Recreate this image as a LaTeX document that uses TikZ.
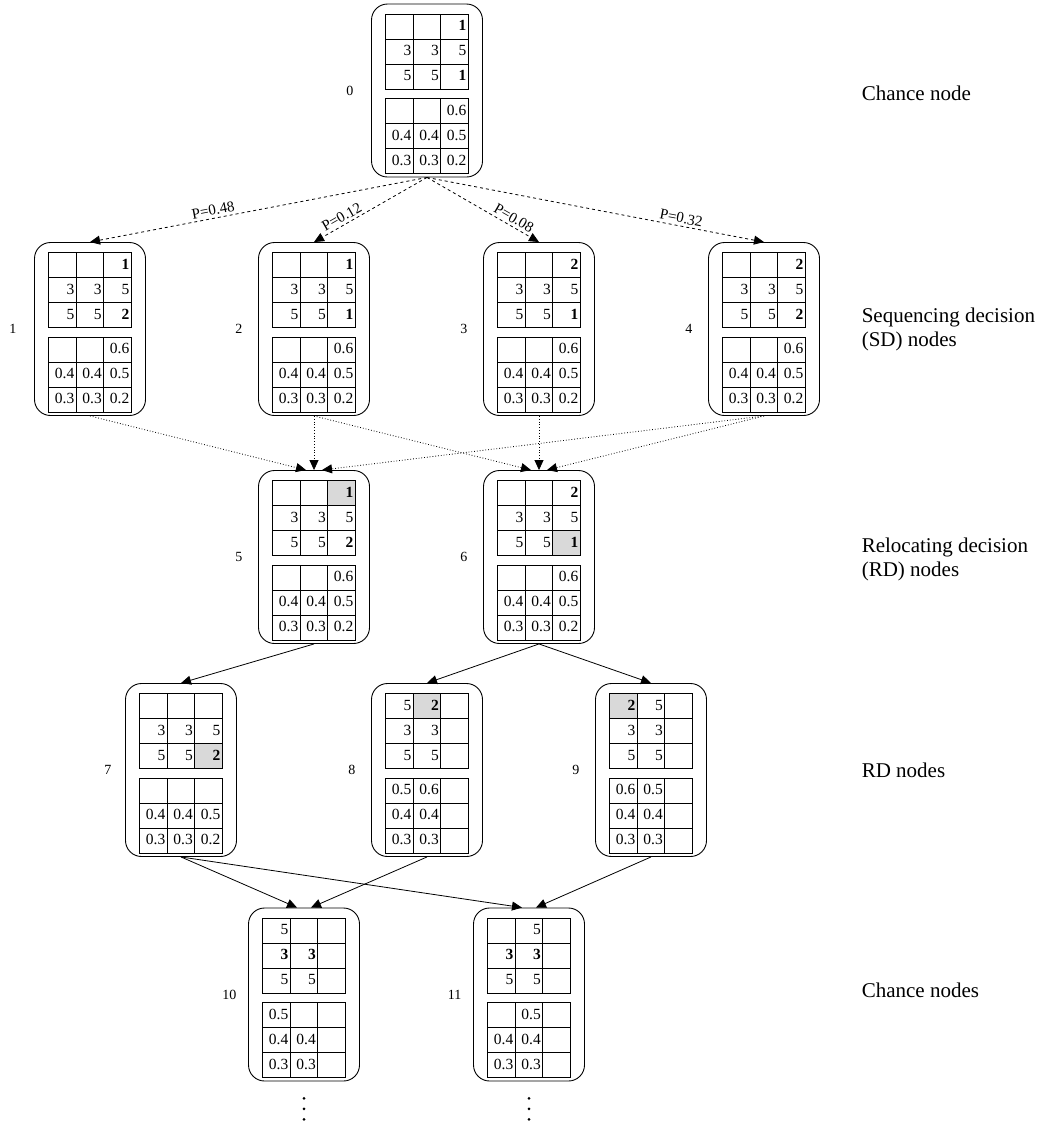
\documentclass[tikz,border=0pt]{standalone}
\usepackage{fontspec}
\setmainfont{Liberation Serif}
\usepackage{tikz}
\usetikzlibrary{arrows.meta, positioning, matrix}
\definecolor{cellgray}{HTML}{D9D9D9}

\begin{document}
\begin{tikzpicture}[x=1pt, y=1pt, line width=0.9pt,
    statebox/.style={rectangle, draw, rounded corners=16pt,
                     minimum width=111pt, minimum height=173pt, inner sep=0pt},
    cellgrid/.style={matrix of nodes, nodes in empty cells, inner sep=0pt, outer sep=0pt,
                     column sep=-0.9pt, row sep=-0.9pt,
                     nodes={rectangle, draw, anchor=center, inner sep=2pt,
                            text width=23.5pt, text height=11pt, text depth=3pt,
                            align=right, minimum height=25pt,
                            font=\fontsize{15.5}{15.5}\selectfont}},
    hl/.style={fill=cellgray},
    num/.style={font=\fontsize{14}{16}\selectfont},
    level label/.style={anchor=west, align=left, font=\fontsize{21}{24}\selectfont},
    prob/.style={sloped, above, inner sep=2.5pt, font=\fontsize{15}{15}\selectfont},
    chance arc/.style={-{Triangle[length=10pt, width=9pt]}, line width=0.8pt, dashed},
    sd arc/.style={-{Triangle[length=10pt, width=9pt]}, line width=0.8pt, dotted},
    rd arc/.style={-{Triangle[length=10pt, width=9pt]}, line width=0.8pt},
]
    \useasboundingbox (0,0) rectangle (1049,-1128);

    % ── Chance node ──
    \node[statebox] (s0) at (427,-90.5) {};
    \node[num, left=14pt of s0] (n0) {0};
    \matrix[cellgrid, below=10pt of s0.north] (s0top) {
        & & \textbf{1} \\
        3 & 3 & 5 \\
        5 & 5 & \textbf{1} \\
    };
    \matrix[cellgrid, below=9pt of s0top] (s0bot) {
        & & 0.6 \\
        0.4 & 0.4 & 0.5 \\
        0.3 & 0.3 & 0.2 \\
    };

    % ── SD nodes ──
    \node[statebox] (s1) at (90,-329) {};
    \node[num, left=14pt of s1] (n1) {1};
    \matrix[cellgrid, below=10pt of s1.north] (s1top) {
        & & \textbf{1} \\
        3 & 3 & 5 \\
        5 & 5 & \textbf{2} \\
    };
    \matrix[cellgrid, below=9pt of s1top] (s1bot) {
        & & 0.6 \\
        0.4 & 0.4 & 0.5 \\
        0.3 & 0.3 & 0.2 \\
    };

    \node[statebox] (s2) at (314,-329) {};
    \node[num, left=12pt of s2] (n2) {2};
    \matrix[cellgrid, below=10pt of s2.north] (s2top) {
        & & \textbf{1} \\
        3 & 3 & 5 \\
        5 & 5 & \textbf{1} \\
    };
    \matrix[cellgrid, below=9pt of s2top] (s2bot) {
        & & 0.6 \\
        0.4 & 0.4 & 0.5 \\
        0.3 & 0.3 & 0.2 \\
    };

    \node[statebox] (s3) at (539,-329) {};
    \node[num, left=12pt of s3] (n3) {3};
    \matrix[cellgrid, below=10pt of s3.north] (s3top) {
        & & \textbf{2} \\
        3 & 3 & 5 \\
        5 & 5 & \textbf{1} \\
    };
    \matrix[cellgrid, below=9pt of s3top] (s3bot) {
        & & 0.6 \\
        0.4 & 0.4 & 0.5 \\
        0.3 & 0.3 & 0.2 \\
    };

    \node[statebox] (s4) at (764,-329) {};
    \node[num, left=12pt of s4] (n4) {4};
    \matrix[cellgrid, below=10pt of s4.north] (s4top) {
        & & \textbf{2} \\
        3 & 3 & 5 \\
        5 & 5 & \textbf{2} \\
    };
    \matrix[cellgrid, below=9pt of s4top] (s4bot) {
        & & 0.6 \\
        0.4 & 0.4 & 0.5 \\
        0.3 & 0.3 & 0.2 \\
    };

    \draw[chance arc] (s0.south) -- node[prob, pos=0.63] {P=0.48} (s1.north);
    \draw[chance arc] (s0.south) -- node[prob, pos=0.72] {P=0.12} (s2.north);
    \draw[chance arc] (s0.south) -- node[prob, pos=0.74] {P=0.08} (s3.north);
    \draw[chance arc] (s0.south) -- node[prob, pos=0.75] {P=0.32} (s4.north);

    % ── RD nodes ──
    \node[statebox] (s5) at (314,-557) {};
    \node[num, left=12pt of s5] (n5) {5};
    \matrix[cellgrid, below=10pt of s5.north] (s5top) {
        & & |[hl]| \textbf{1} \\
        3 & 3 & 5 \\
        5 & 5 & \textbf{2} \\
    };
    \matrix[cellgrid, below=9pt of s5top] (s5bot) {
        & & 0.6 \\
        0.4 & 0.4 & 0.5 \\
        0.3 & 0.3 & 0.2 \\
    };

    \node[statebox] (s6) at (539,-557) {};
    \node[num, left=12pt of s6] (n6) {6};
    \matrix[cellgrid, below=10pt of s6.north] (s6top) {
        & & \textbf{2} \\
        3 & 3 & 5 \\
        5 & 5 & |[hl]| \textbf{1} \\
    };
    \matrix[cellgrid, below=9pt of s6top] (s6bot) {
        & & 0.6 \\
        0.4 & 0.4 & 0.5 \\
        0.3 & 0.3 & 0.2 \\
    };

    \draw[sd arc] (s1.south) -- ([xshift=-8pt]s5.north);
    \draw[sd arc] (s2.south) -- (s5.north);
    \draw[sd arc] (s4.south) -- ([xshift=8pt]s5.north);
    \draw[sd arc] (s2.south) -- ([xshift=-8pt]s6.north);
    \draw[sd arc] (s3.south) -- (s6.north);
    \draw[sd arc] (s4.south) -- ([xshift=8pt]s6.north);

    \node[statebox] (s7) at (181,-770) {};
    \node[num, left=10pt of s7] (n7) {7};
    \matrix[cellgrid, below=10pt of s7.north] (s7top) {
        & & \\
        3 & 3 & 5 \\
        5 & 5 & |[hl]| \textbf{2} \\
    };
    \matrix[cellgrid, below=9pt of s7top] (s7bot) {
        & & \\
        0.4 & 0.4 & 0.5 \\
        0.3 & 0.3 & 0.2 \\
    };

    \node[statebox] (s8) at (427,-770) {};
    \node[num, left=12pt of s8] (n8) {8};
    \matrix[cellgrid, below=10pt of s8.north] (s8top) {
        5 & |[hl]| \textbf{2} & \\
        3 & 3 & \\
        5 & 5 & \\
    };
    \matrix[cellgrid, below=9pt of s8top] (s8bot) {
        0.5 & 0.6 & \\
        0.4 & 0.4 & \\
        0.3 & 0.3 & \\
    };

    \node[statebox] (s9) at (651,-770) {};
    \node[num, left=12pt of s9] (n9) {9};
    \matrix[cellgrid, below=10pt of s9.north] (s9top) {
        |[hl]| \textbf{2} & 5 & \\
        3 & 3 & \\
        5 & 5 & \\
    };
    \matrix[cellgrid, below=9pt of s9top] (s9bot) {
        0.6 & 0.5 & \\
        0.4 & 0.4 & \\
        0.3 & 0.3 & \\
    };

    \draw[rd arc] (s5.south) -- (s7.north);
    \draw[rd arc] (s6.south) -- (s8.north);
    \draw[rd arc] (s6.south) -- (s9.north);

    % ── Chance nodes ──
    \node[statebox] (s10) at (304,-994.5) {};
    \node[num, left=8pt of s10] (n10) {10};
    \matrix[cellgrid, below=10pt of s10.north] (s10top) {
        5 & & \\
        \textbf{3} & \textbf{3} & \\
        5 & 5 & \\
    };
    \matrix[cellgrid, below=9pt of s10top] (s10bot) {
        0.5 & & \\
        0.4 & 0.4 & \\
        0.3 & 0.3 & \\
    };

    \node[statebox] (s11) at (529,-994.5) {};
    \node[num, left=8pt of s11] (n11) {11};
    \matrix[cellgrid, below=10pt of s11.north] (s11top) {
        & 5 & \\
        \textbf{3} & \textbf{3} & \\
        5 & 5 & \\
    };
    \matrix[cellgrid, below=9pt of s11top] (s11bot) {
        & 0.5 & \\
        0.4 & 0.4 & \\
        0.3 & 0.3 & \\
    };

    \draw[rd arc] (s7.south) -- ([xshift=-7pt]s10.north);
    \draw[rd arc] (s8.south) -- ([xshift=7pt]s10.north);
    \draw[rd arc] (s7.south) -- ([xshift=-7pt]s11.north);
    \draw[rd arc] (s9.south) -- ([xshift=7pt]s11.north);

    \foreach \n in {s10, s11}
        \foreach \dy in {17, 27.5, 38}
            \fill ([yshift=-\dy pt]\n.south) circle (1.5pt);

    % ── Level labels ──
    \node[level label] (lev0) at (858,-93) {Chance node};
    \node[level label] (lev1) at (858,-329) {Sequencing decision\\(SD) nodes};
    \node[level label] (lev2) at (858,-559) {Relocating decision\\(RD) nodes};
    \node[level label] (lev3) at (858,-770) {RD nodes};
    \node[level label] (lev4) at (858,-990) {Chance nodes};

\end{tikzpicture}
\end{document}
